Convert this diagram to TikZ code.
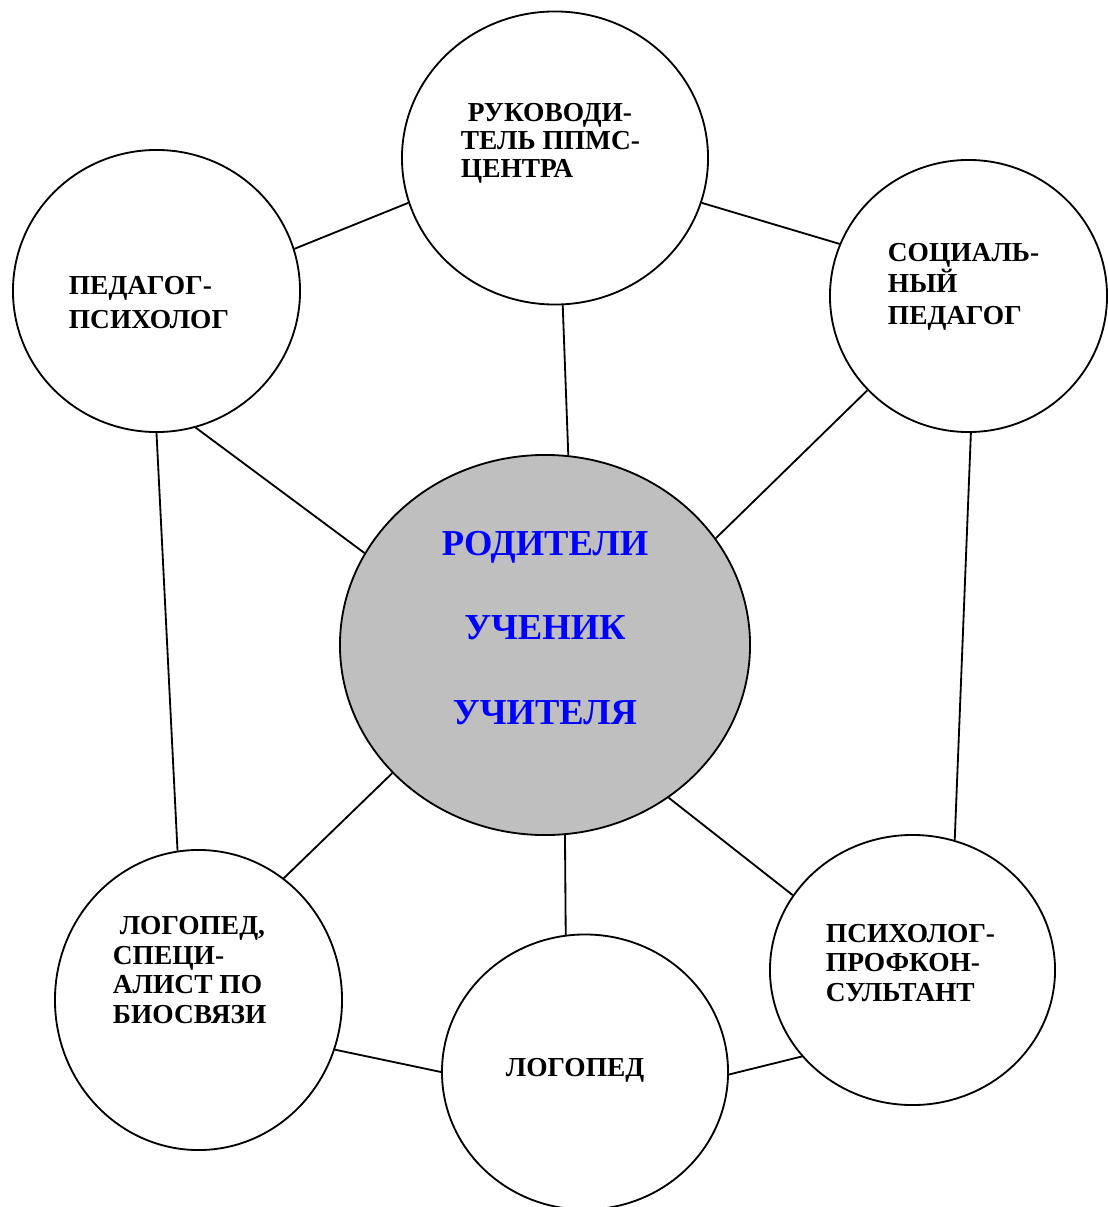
\documentclass[tikz,border=0pt]{standalone}
\usepackage{fontspec}
\setmainfont{Liberation Serif}
\usetikzlibrary{shapes.geometric}

\begin{document}
\begin{tikzpicture}
[x=0.025cm,y=-0.025cm,line width=1.3pt,
member/.style = {draw, ellipse, inner sep = 0pt},
role/.style = {inner sep = 0pt, anchor = north west, align = left, font = \bfseries\fontsize{19.5}{#1}\selectfont},
role/.default = 21.3,]
\useasboundingbox (0,0) rectangle (1108,1207);
\node (ruk) at (555,158)[member, minimum width=7.65cm, minimum height=7.325cm] {};
\node (ped) at (156.5,291)[member, minimum width=7.175cm, minimum height=7.05cm] {};
\node (soc) at (968.5,296)[member, minimum width=6.925cm, minimum height=6.8cm] {};
\node (mid) at (545,645)[member, fill=black!25, minimum width=10.25cm, minimum height=9.5cm] {};
\node (bio) at (198.5,1000)[member, minimum width=7.175cm, minimum height=7.5cm] {};
\node (log) at (585,1072)[member, minimum width=7.15cm, minimum height=6.875cm] {};
\node (prof) at (912.5,970)[member, minimum width=7.125cm, minimum height=6.75cm] {};
\draw (ped.17)--(ruk.197.8);
\draw (ruk.343.6)--(soc.158.8);
\draw (ruk.273.7)--(mid.83.9);
\draw (ped.286.6)--(mid.153.8);
\draw (soc.223.5)--(mid.32);
\draw (ped.270.2)--(bio.98.2);
\draw (soc.271.7)--(prof.72.2);
\draw (mid.220)--(bio.55.8);
\draw (mid.276.1)--(log.98.6);
\draw (mid.309.9)--(prof.148.5);
\draw (bio.340.1)--(log.180.8);
\draw (log.359.2)--(prof.218.7);
\node (rukT) at (460,102)[role=19.9] {\hspace*{0.25em}РУКОВОДИ-\\ТЕЛЬ ППМС-\\ЦЕНТРА};
\node (pedT) at (68,275)[role=24.8] {ПЕДАГОГ-\\ПСИХОЛОГ};
\node (socT) at (887,242)[role=22.7] {СОЦИАЛЬ-\\НЫЙ\\ПЕДАГОГ};
\node (bioT) at (112,915)[role] {\hspace*{0.25em}ЛОГОПЕД,\\СПЕЦИ-\\АЛИСТ ПО\\БИОСВЯЗИ};
\node (profT) at (825,923)[role=21] {ПСИХОЛОГ-\\ПРОФКОН-\\СУЛЬТАНТ};
\node (logT) at (505,1057)[role] {ЛОГОПЕД};
\node (midT) at (545,530)[inner sep=0pt, anchor=north, align=center, text=blue, font=\bfseries\fontsize{26}{60.2}\selectfont] {РОДИТЕЛИ\\УЧЕНИК\\УЧИТЕЛЯ};
\end{tikzpicture}
\end{document}
